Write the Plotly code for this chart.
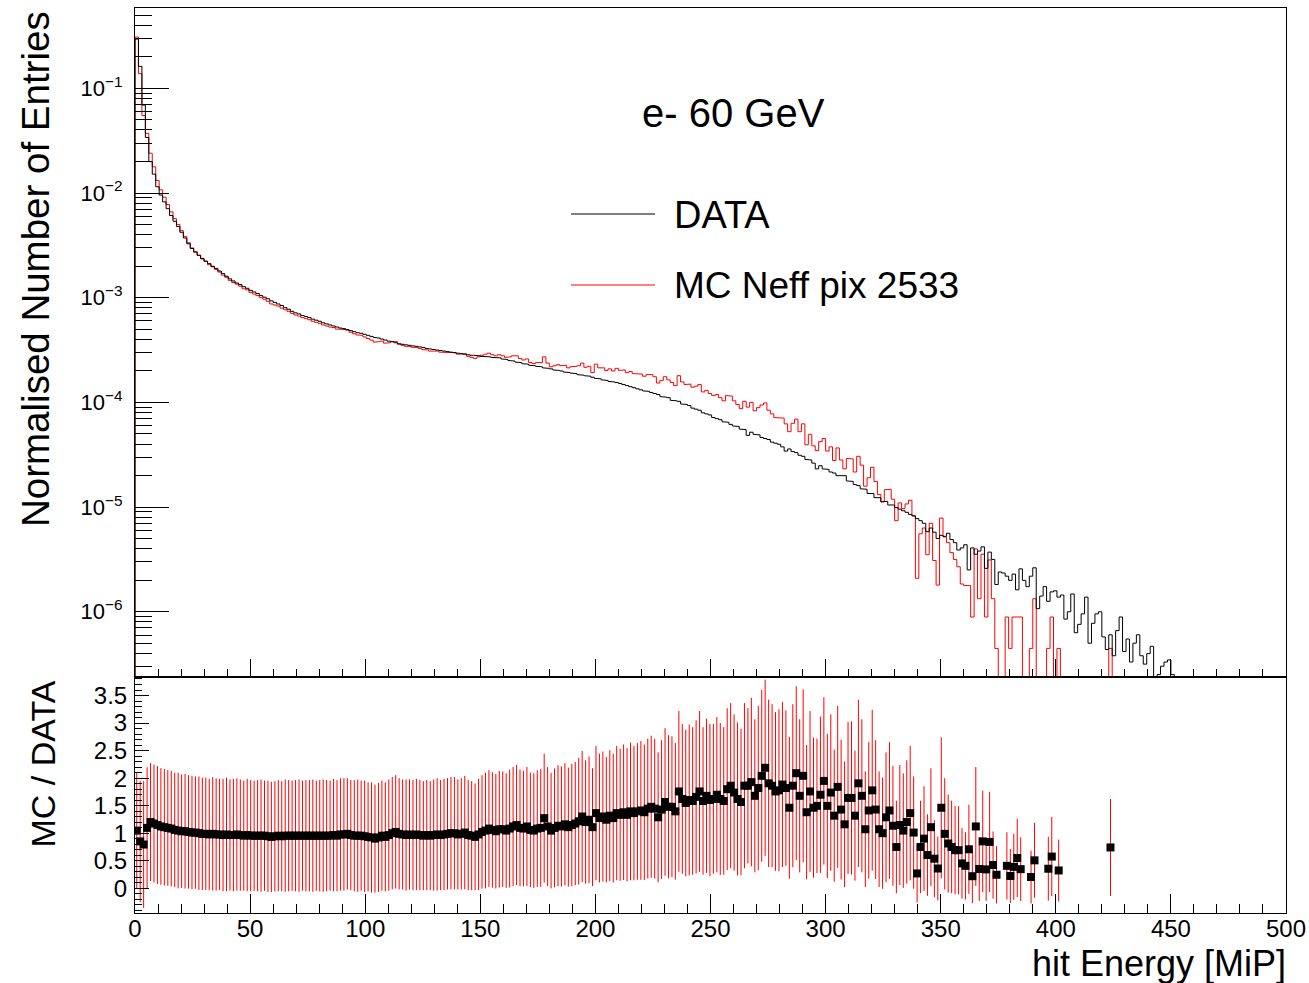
import numpy as np
import plotly.graph_objects as go

# ---------------- data ----------------
bin_width = 1.5  # MiP per bin, bins start at 0

# log10 of normalised entries, DATA
data_log10 = [
    -0.53, -0.79, -1.16, -1.47, -1.70, -1.82, -1.94, -2.02, -2.085, -2.15,
    -2.215, -2.27, -2.32, -2.375, -2.43, -2.485, -2.53, -2.565, -2.595, -2.625,
    -2.65, -2.675, -2.70, -2.72, -2.745, -2.77, -2.795, -2.82, -2.84, -2.86,
    -2.875, -2.895, -2.91, -2.93, -2.945, -2.96, -2.98, -2.995, -3.01, -3.03,
    -3.045, -3.06, -3.075, -3.095, -3.11, -3.13, -3.145, -3.155, -3.17, -3.18,
    -3.19, -3.205, -3.215, -3.225, -3.24, -3.25, -3.26, -3.27, -3.28, -3.29,
    -3.295, -3.305, -3.315, -3.325, -3.335, -3.34, -3.35, -3.36, -3.37, -3.38,
    -3.385, -3.395, -3.405, -3.415, -3.42, -3.43, -3.44, -3.445, -3.45, -3.455,
    -3.46, -3.465, -3.47, -3.475, -3.485, -3.49, -3.495, -3.50, -3.505, -3.51,
    -3.515, -3.52, -3.525, -3.53, -3.535, -3.54, -3.545, -3.55, -3.55, -3.555,
    -3.56, -3.56, -3.565, -3.57, -3.57, -3.575, -3.585, -3.59, -3.60, -3.605,
    -3.615, -3.62, -3.63, -3.635, -3.645, -3.65, -3.655, -3.66, -3.67, -3.675,
    -3.68, -3.69, -3.695, -3.70, -3.71, -3.715, -3.72, -3.725, -3.735, -3.74,
    -3.745, -3.75, -3.76, -3.77, -3.775, -3.785, -3.79, -3.80, -3.805, -3.81,
    -3.82, -3.83, -3.84, -3.85, -3.86, -3.87, -3.88, -3.89, -3.895, -3.905,
    -3.915, -3.925, -3.945, -3.95, -3.955, -3.98, -3.985, -3.99, -4.015, -4.02,
    -4.03, -4.055, -4.065, -4.075, -4.10, -4.11, -4.12, -4.145, -4.155, -4.165,
    -4.185, -4.19, -4.21, -4.225, -4.23, -4.255, -4.26, -4.315, -4.285, -4.305,
    -4.31, -4.335, -4.345, -4.355, -4.38, -4.39, -4.40, -4.425, -4.465, -4.445,
    -4.47, -4.48, -4.505, -4.515, -4.545, -4.55, -4.58, -4.635, -4.605, -4.635,
    -4.64, -4.665, -4.675, -4.70, -4.705, -4.70, -4.75, -4.755, -4.785, -4.795,
    -4.825, -4.83, -4.87, -4.87, -4.91, -4.91, -4.95, -4.945, -4.98, -4.98,
    -5.005, -5.02, -5.035, -5.05, -5.07, -5.085, -5.11, -5.13, -5.155, -5.235,
    -5.20, -5.24, -5.30, -5.27, -5.28, -5.25, -5.31, -5.34, -5.41, -5.39,
    -5.36, -5.60, -5.39, -5.45, -5.42, -5.38, -5.585, -5.43, -5.50, -5.74,
    -5.62, -5.63, -5.66, -5.70, -5.64, -5.79, -5.59, -5.70, -5.76, -5.66,
    -5.58, -5.97, -5.85, -5.76, -5.90, -5.81, -5.80, -5.86, -5.84, -6.07,
    -6.00, -5.83, -6.20, -6.12, -6.02, -5.86, -6.30, -6.11, -6.02, -6.00,
    -6.24, -6.36, -6.22, -6.42, -6.18, -6.05, -6.38, -6.26, -6.48, -6.30,
    -6.22, -6.42, -6.50, -6.40, -6.33, -6.62, -6.60, -6.52, -6.48, -6.46, -6.60, -6.70,
]

# log10 of normalised entries, MC (None = empty bin)
mc_log10 = [
    -0.51, -0.86, -1.26, -1.43, -1.62, -1.75, -1.88, -1.97, -2.04, -2.11,
    -2.18, -2.245, -2.30, -2.36, -2.415, -2.475, -2.525, -2.56, -2.595, -2.63,
    -2.655, -2.685, -2.705, -2.73, -2.755, -2.785, -2.805, -2.835, -2.855, -2.87,
    -2.89, -2.915, -2.925, -2.95, -2.965, -2.98, -3.0, -3.015, -3.035, -3.06,
    -3.07, -3.08, -3.10, -3.115, -3.13, -3.15, -3.165, -3.175, -3.19, -3.20,
    -3.21, -3.225, -3.235, -3.245, -3.26, -3.27, -3.28, -3.285, -3.30, -3.30,
    -3.305, -3.31, -3.33, -3.345, -3.355, -3.36, -3.375, -3.39, -3.405, -3.425,
    -3.42, -3.415, -3.435, -3.43, -3.42, -3.42, -3.445, -3.455, -3.465, -3.465,
    -3.475, -3.475, -3.485, -3.495, -3.50, -3.51, -3.51, -3.51, -3.52, -3.52,
    -3.52, -3.52, -3.525, -3.54, -3.54, -3.535, -3.56, -3.57, -3.58, -3.565,
    -3.55, -3.54, -3.53, -3.545, -3.555, -3.545, -3.555, -3.57, -3.565, -3.555,
    -3.555, -3.58, -3.595, -3.585, -3.62, -3.63, -3.62, -3.62, -3.565, -3.625,
    -3.66, -3.65, -3.64, -3.65, -3.645, -3.67, -3.66, -3.655, -3.65, -3.625,
    -3.665, -3.655, -3.715, -3.635, -3.67, -3.67, -3.695, -3.68, -3.70, -3.675,
    -3.695, -3.69, -3.715, -3.705, -3.725, -3.725, -3.73, -3.75, -3.735, -3.735,
    -3.755, -3.815, -3.79, -3.755, -3.785, -3.81, -3.84, -3.745, -3.805, -3.83,
    -3.825, -3.855, -3.845, -3.83, -3.90, -3.885, -3.915, -3.935, -3.925, -3.955,
    -3.985, -3.935, -3.94, -3.985, -4.02, -4.06, -3.99, -4.045, -4.0, -4.08,
    -4.05, -4.025, -4.005, -4.075, -4.11, -4.145, -4.15, -4.15, -4.205, -4.28,
    -4.20, -4.16, -4.28, -4.205, -4.405, -4.305, -4.415, -4.46, -4.375, -4.345,
    -4.465, -4.425, -4.555, -4.435, -4.55, -4.635, -4.535, -4.54, -4.665, -4.515,
    -4.60, -4.80, -4.72, -4.62, -4.755, -4.88, -4.95, -4.835, -4.83, -4.925,
    -5.13, -4.96, -5.015, -4.97, -4.935, -5.08, -5.68, -5.255, -5.20, -5.455,
    -5.155, -5.51, -5.745, -5.105, -5.285, -5.34, -5.435, -5.50, -5.57, -5.735,
    -5.75, -5.75, -6.05, -5.40, -5.875, -5.45, -6.05, -5.505, -5.875, -6.35,
    None, None, -6.05, -6.35, -6.05, -6.05, -6.05, None, None, -6.35,
    -5.875, None, None, None, -6.35, -6.05, None, -6.35, None, None,
    None, None, None, None, None, None, None, None, None, None,
    None, None, -6.35, None, None, None, None, None, None, None,
    None, None, None, None, None, None, None, None, None, None, None, None,
]

# uncertainty of MC / DATA per bin (None = no point)
ratio_err = [
    1.06, 1.10, 1.15, 1.10, 1.07, 1.07, 1.07, 1.06, 1.06, 1.05,
    1.05, 1.04, 1.05, 1.03, 1.04, 1.03, 1.03, 1.02, 1.03, 1.02,
    1.02, 1.01, 1.03, 1.02, 1.01, 1.02, 1.03, 1.01, 1.02, 1.02,
    1.01, 1.00, 1.02, 1.01, 1.00, 1.01, 1.02, 1.00, 1.01, 1.00,
    1.00, 1.01, 1.00, 1.02, 1.01, 1.00, 1.01, 1.02, 1.00, 1.01,
    1.01, 1.02, 1.00, 1.01, 1.02, 1.01, 1.00, 1.02, 1.01, 1.02,
    1.02, 1.01, 1.00, 1.01, 1.02, 1.00, 1.01, 0.99, 1.00, 0.98,
    0.99, 1.00, 0.99, 1.01, 1.02, 1.03, 1.01, 1.00, 1.01, 1.00,
    1.00, 1.01, 1.00, 0.99, 1.00, 0.99, 1.01, 1.02, 1.00, 1.01,
    1.01, 1.02, 1.02, 1.00, 1.01, 1.03, 1.00, 0.99, 0.97, 1.01,
    1.03, 1.05, 1.06, 1.05, 1.04, 1.06, 1.05, 1.04, 1.07, 1.08,
    1.09, 1.06, 1.05, 1.08, 1.04, 1.04, 1.06, 1.07, 1.17, 1.08,
    1.05, 1.08, 1.10, 1.09, 1.11, 1.08, 1.11, 1.12, 1.15, 1.19,
    1.12, 1.15, 1.07, 1.22, 1.17, 1.18, 1.14, 1.19, 1.17, 1.22,
    1.20, 1.23, 1.21, 1.25, 1.22, 1.24, 1.26, 1.23, 1.27, 1.29,
    1.27, 1.18, 1.26, 1.34, 1.30, 1.28, 1.24, 1.46, 1.36, 1.33,
    1.37, 1.34, 1.39, 1.46, 1.34, 1.40, 1.38, 1.36, 1.41, 1.38,
    1.34, 1.47, 1.50, 1.42, 1.39, 1.33, 1.50, 1.41, 1.53, 1.39,
    1.49, 1.56, 1.60, 1.52, 1.48, 1.44, 1.47, 1.50, 1.41, 1.29,
    1.48, 1.58, 1.39, 1.57, 1.22, 1.46, 1.27, 1.22, 1.42, 1.52,
    1.31, 1.42, 1.20, 1.47, 1.27, 1.14, 1.38, 1.39, 1.18, 1.52,
    1.39, 1.05, 1.24, 1.46, 1.26, 1.05, 1.01, 1.18, 1.24, 1.09,
    0.84, 1.09, 1.04, 1.12, 1.22, 1.02, 0.53, 0.84, 0.95, 0.74,
    1.07, 0.70, 0.58, 1.28, 1.01, 0.89, 0.84, 0.80, 0.80, 0.64,
    0.61, 0.81, 0.49, 1.08, 0.58, 0.92, 0.57, 0.91, 0.61, 0.52,
    None, None, 0.61, 0.49, 0.60, 0.71, 0.58, None, None, 0.48,
    0.68, None, None, None, 0.58, 0.72, None, 0.56, None, None,
    None, None, None, None, None, None, None, None, None, None,
    None, None, 0.88, None, None, None, None, None, None, None,
    None, None, None, None, None, None, None, None, None, None, None, None,
]

y_tick_vals = [1e-6, 1e-5, 1e-4, 1e-3, 1e-2, 1e-1]
y_tick_text = ["10<sup>\u22126</sup>", "10<sup>\u22125</sup>", "10<sup>\u22124</sup>",
               "10<sup>\u22123</sup>", "10<sup>\u22122</sup>", "10<sup>\u22121</sup>"]

# ---------------- build histograms ----------------
n = len(data_log10)
edges = np.arange(n + 1) * bin_width
centers = edges[:-1] + bin_width / 2
data_vals = np.array([10.0 ** v for v in data_log10])
mc_vals = np.array([10.0 ** v if v is not None else 0.0 for v in mc_log10])

FLOOR = 1e-12  # empty bins drawn below the visible range (log axis)


def step_xy(vals):
    y = np.where(vals > 0, vals, FLOOR)
    xs = np.repeat(edges, 2)[1:-1]
    ys = np.repeat(y, 2)
    xs = np.concatenate([[edges[0]], xs, [edges[-1]]])
    ys = np.concatenate([[FLOOR], ys, [FLOOR]])
    return xs, ys


rx, ry, re = [], [], []
for c, dv, mv, ev in zip(centers, data_log10, mc_log10, ratio_err):
    if mv is None or ev is None:
        continue
    rx.append(c)
    ry.append(10.0 ** (mv - dv))
    re.append(ev)

# ---------------- geometry ----------------
W, H = 1309, 983
L, R, T, B = 135, 23, 8, 70
PW, PH = W - L - R, H - T - B
split = (H - B - 677) / PH


def px(xp):
    return (xp - L) / PW


def py(yp):
    return (H - B - yp) / PH


FONT = "Liberation Sans, Arial, Helvetica, sans-serif"

fig = go.Figure()
xs, ys = step_xy(mc_vals)
fig.add_trace(go.Scatter(x=xs, y=ys, mode="lines", line=dict(color="#ff0000", width=1),
                         xaxis="x", yaxis="y", hoverinfo="skip", showlegend=False))
xs, ys = step_xy(data_vals)
fig.add_trace(go.Scatter(x=xs, y=ys, mode="lines", line=dict(color="black", width=1),
                         xaxis="x", yaxis="y", hoverinfo="skip", showlegend=False))
fig.add_trace(go.Scatter(x=rx, y=ry, mode="markers",
                         marker=dict(symbol="square", size=8, color="black", line=dict(width=0)),
                         error_y=dict(type="data", array=re, color="#ff0000", thickness=1, width=0),
                         xaxis="x2", yaxis="y2", showlegend=False))

minor_log = [k * 10.0 ** e for e in range(-7, 0) for k in range(2, 10)]

axis_common = dict(showgrid=False, zeroline=False, showline=True, linecolor="black",
                   linewidth=1, mirror=True, ticks="inside", tickcolor="black", tickwidth=1,
                   automargin=False)

fig.update_layout(
    template="none",
    width=W, height=H,
    margin=dict(l=L, r=R, t=T, b=B, autoexpand=False),
    paper_bgcolor="white", plot_bgcolor="white",
    font=dict(family=FONT, color="black"),
    xaxis=dict(domain=[0, 1], range=[0, 500], anchor="y", showticklabels=False,
               tick0=0, dtick=50, ticklen=18,
               minor=dict(dtick=10, ticks="inside", ticklen=8, tickcolor="black", tickwidth=1),
               **axis_common),
    yaxis=dict(domain=[split, 1], type="log", range=[-6.623, -0.233], anchor="x",
               tickmode="array", tickvals=y_tick_vals, ticktext=y_tick_text, ticklen=34,
               tickfont=dict(size=22), ticklabelstandoff=7,
               minor=dict(tickmode="array", tickvals=minor_log, ticks="inside", ticklen=17,
                          tickcolor="black", tickwidth=1),
               **axis_common),
    xaxis2=dict(domain=[0, 1], range=[0, 500], anchor="y2", matches="x",
                tick0=0, dtick=50, ticklen=19, tickfont=dict(size=24), ticklabelstandoff=-6,
                minor=dict(dtick=10, ticks="inside", ticklen=9, tickcolor="black", tickwidth=1),
                **axis_common),
    yaxis2=dict(domain=[0, split], range=[-0.449, 3.836], anchor="x2",
                tick0=0, dtick=0.5, ticklen=14, tickfont=dict(size=24), ticklabelstandoff=2,
                minor=dict(dtick=0.1, ticks="inside", ticklen=7, tickcolor="black", tickwidth=1),
                **axis_common),
)

ann = [
    dict(text="Normalised Number of Entries", x=px(35), y=py(9), xref="paper", yref="paper",
         xanchor="center", yanchor="top", textangle=-90, showarrow=False, font=dict(size=38.5)),
    dict(text="MC / DATA", x=px(42), y=py(679), xref="paper", yref="paper",
         xanchor="center", yanchor="top", textangle=-90, showarrow=False, font=dict(size=34)),
    dict(text="hit Energy [MiP]", x=px(1288), y=py(963), xref="paper", yref="paper",
         xanchor="right", yanchor="middle", showarrow=False, font=dict(size=36)),
    dict(text="e- 60 GeV", x=px(640), y=py(113), xref="paper", yref="paper",
         xanchor="left", yanchor="middle", showarrow=False, font=dict(size=40)),
    dict(text="DATA", x=px(672), y=py(215), xref="paper", yref="paper",
         xanchor="left", yanchor="middle", showarrow=False, font=dict(size=38)),
    dict(text="MC Neff pix 2533", x=px(672), y=py(286), xref="paper", yref="paper",
         xanchor="left", yanchor="middle", showarrow=False, font=dict(size=37)),
]
fig.update_layout(annotations=ann)

fig.add_shape(type="line", xref="paper", yref="paper", x0=px(571), x1=px(655),
              y0=py(214), y1=py(214), line=dict(color="black", width=1))
fig.add_shape(type="line", xref="paper", yref="paper", x0=px(571), x1=px(655),
              y0=py(285), y1=py(285), line=dict(color="#ff0000", width=1))

fig.write_html("out.html")
